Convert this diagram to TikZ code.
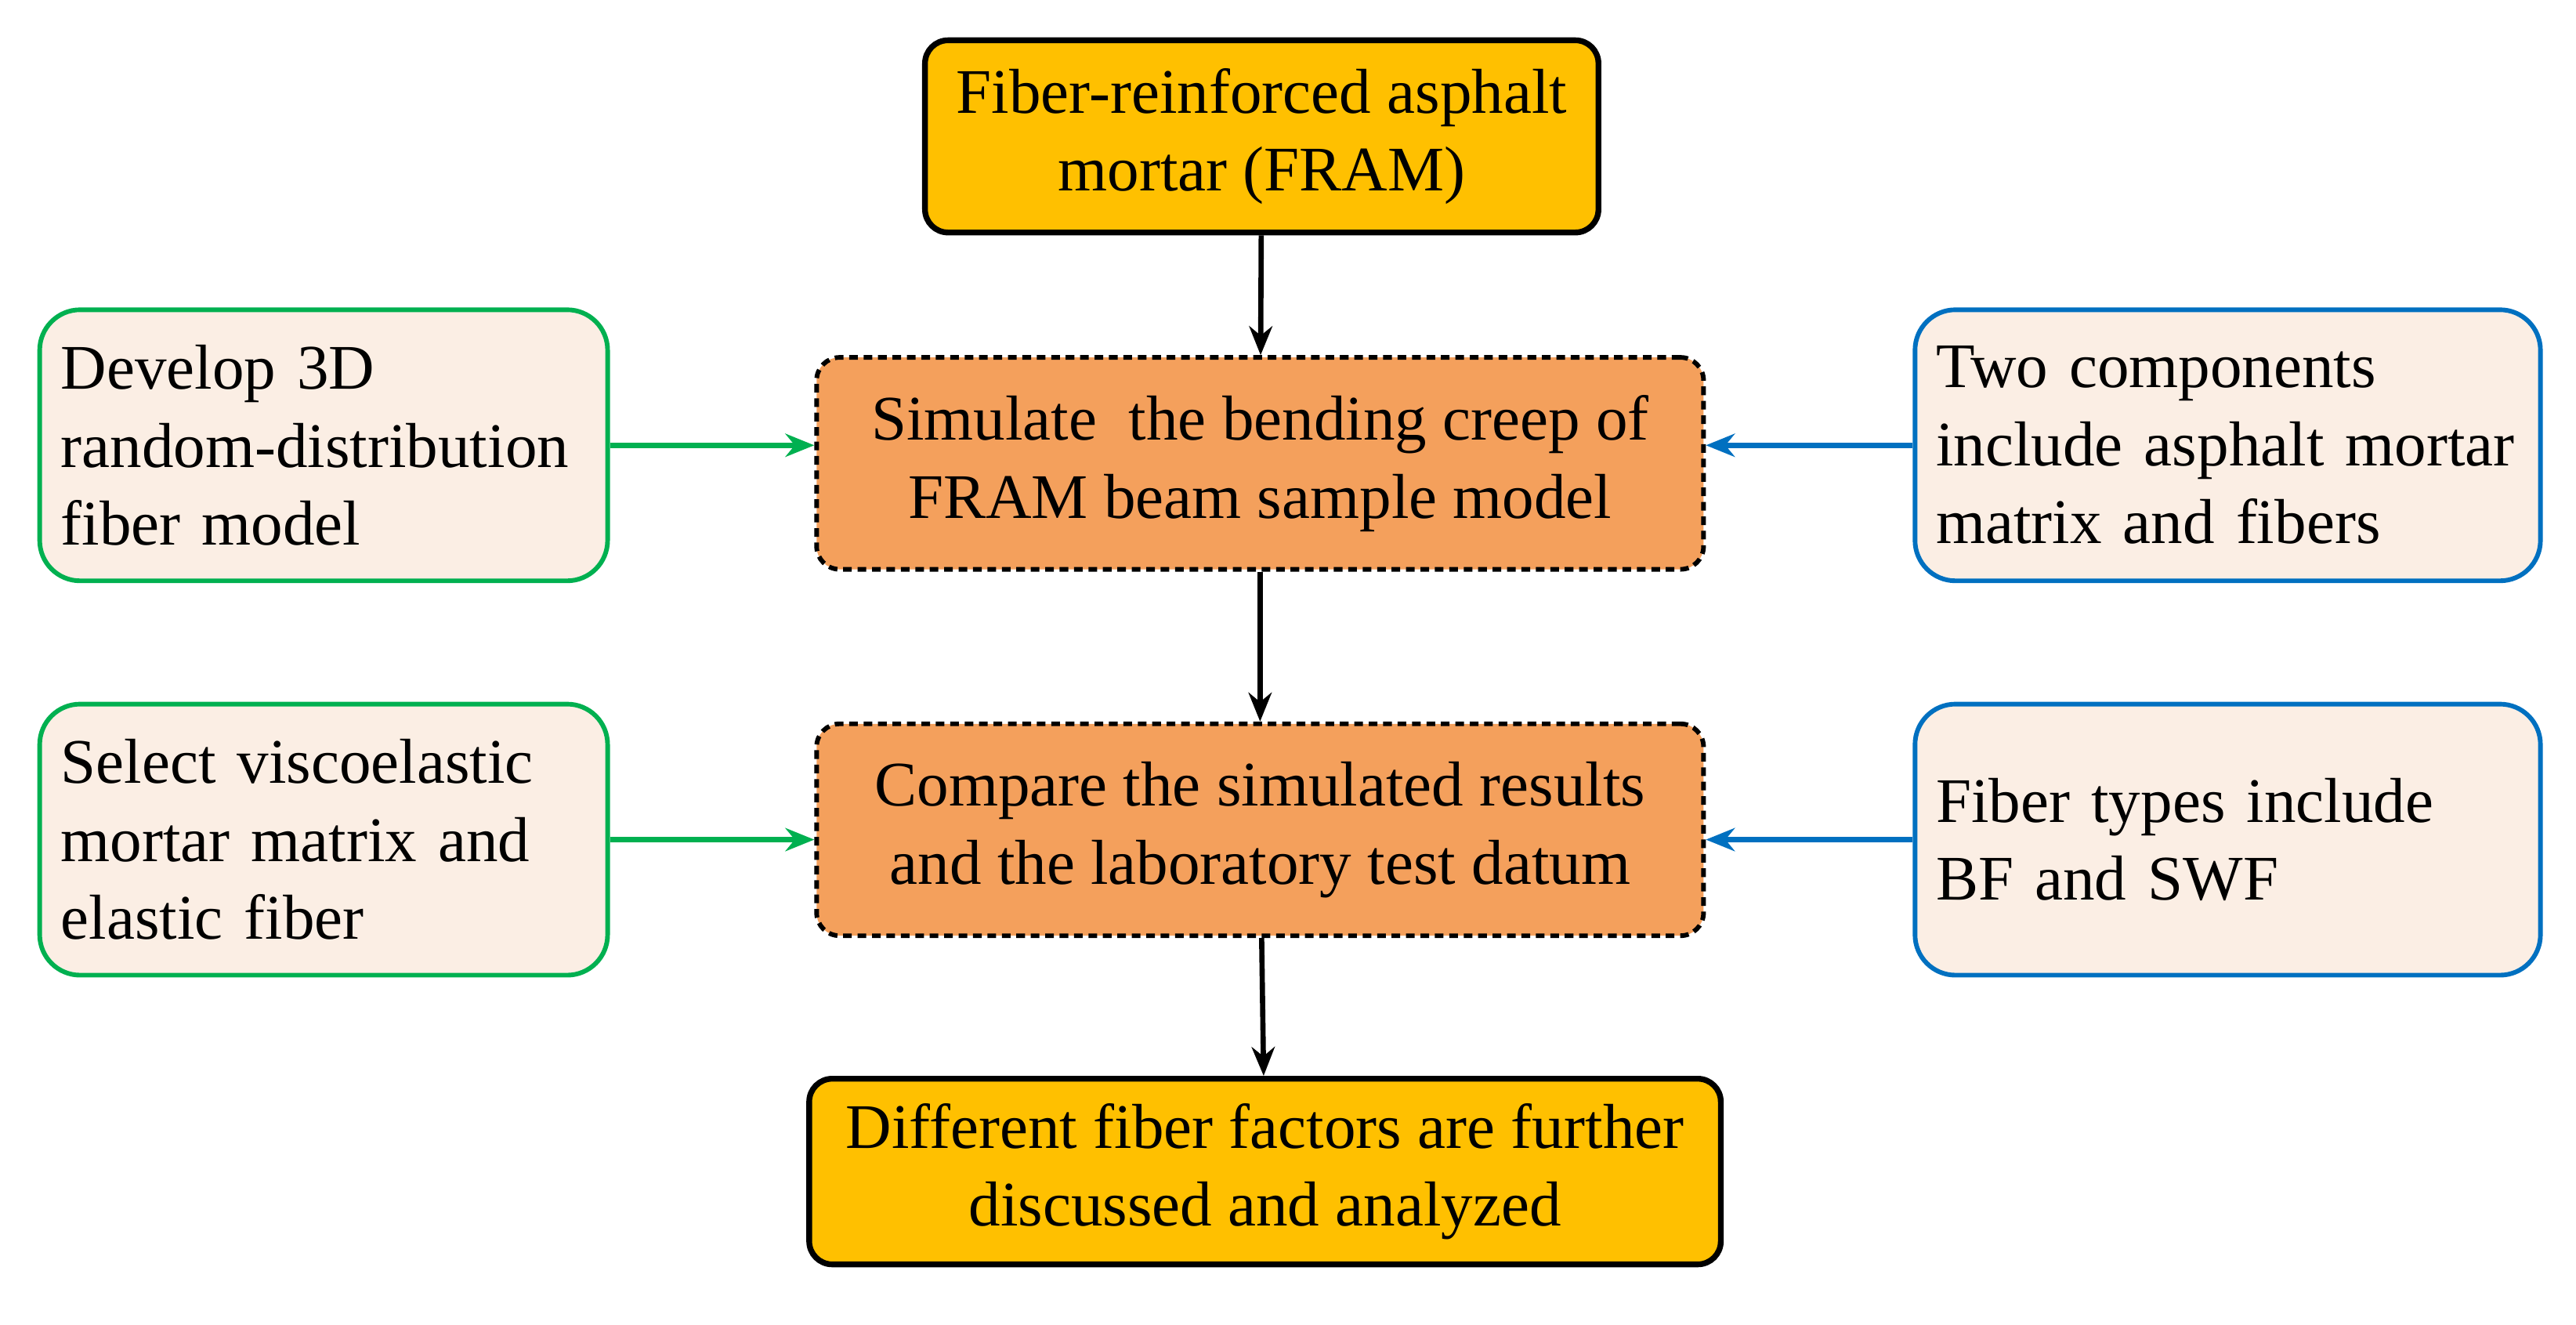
\documentclass[tikz,border=0pt]{standalone}
\usepackage{fontspec}
\setmainfont{Liberation Serif}
\usetikzlibrary{arrows.meta}
\definecolor{gold}{HTML}{FFC000}
\definecolor{peach}{HTML}{F4A05C}
\definecolor{cream}{HTML}{FBEEE4}
\definecolor{sgreen}{HTML}{00B050}
\definecolor{sblue}{HTML}{0070C0}
\tikzset{
  mainbox/.style={draw, line width=2pt, rounded corners=8pt, fill=gold, align=center},
  stepbox/.style={draw, line width=1.6pt, dash pattern=on 3pt off 2pt, rounded corners=8pt, fill=peach, align=center, minimum width=10.8cm, minimum height=2.58cm},
  sidebox/.style={draw, line width=1.6pt, rounded corners=14pt, fill=cream, align=left, text width=6.4cm, minimum height=3.3cm},
  flow/.style={line width=1.8pt, -{Stealth[length=10pt,width=8pt]}}
}
\begin{document}
\begin{tikzpicture}[x=0.02cm,y=-0.02cm]
\useasboundingbox (0,0) rectangle (1568,806);
\fontsize{22}{27}\selectfont
\node[mainbox, minimum width=8.2cm, minimum height=2.34cm] (fram) at (768,83) {Fiber-reinforced asphalt\\mortar (FRAM)};
\node[stepbox] (simulate) at (767,282) {Simulate\ \ the bending creep of\\FRAM beam sample model};
\node[stepbox] (compare) at (767,505) {Compare the simulated results\\and the laboratory test datum};
\node[mainbox, minimum width=11.1cm, minimum height=2.26cm] (factors) at (770,713) {Different fiber factors are further\\discussed and analyzed};
\node[sidebox, draw=sgreen] (develop) at (197,271) {Develop 3D\\random-distribution\\fiber model};
\node[sidebox, draw=sgreen] (select) at (197,511) {Select viscoelastic\\mortar matrix and\\elastic fiber};
\node[sidebox, draw=sblue, text width=7.1cm] (components) at (1356,271) {Two components\\include asphalt mortar\\matrix and fibers};
\node[sidebox, draw=sblue, text width=7.1cm] (types) at (1356,511) {Fiber types include\\BF and SWF\\[27pt]};

\draw[flow] (fram) -- (simulate);
\draw[flow] (simulate) -- (compare);
\draw[flow] (compare) -- (factors);
\draw[flow, sgreen] (develop.east) -- (develop.east -| simulate.west);
\draw[flow, sgreen] (select.east) -- (select.east -| compare.west);
\draw[flow, sblue] (components.west) -- (components.west -| simulate.east);
\draw[flow, sblue] (types.west) -- (types.west -| compare.east);
\end{tikzpicture}
\end{document}
